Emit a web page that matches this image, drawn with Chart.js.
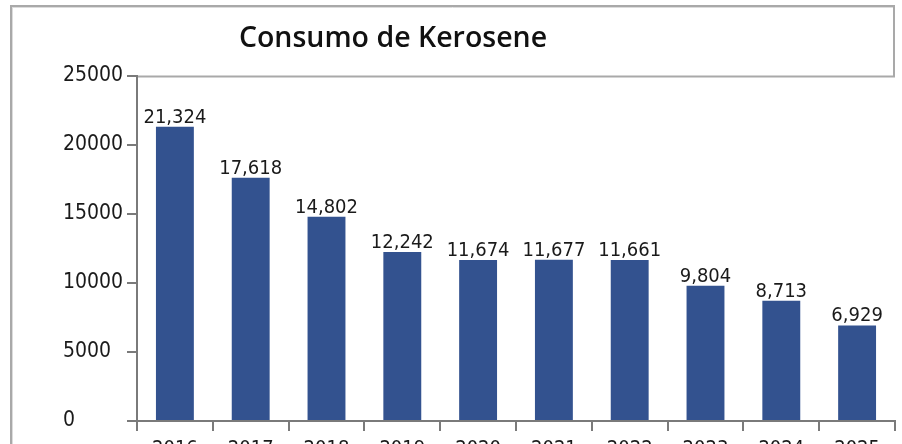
<!DOCTYPE html>
<html>
<head>
<meta charset="utf-8">
<script src="https://cdn.jsdelivr.net/npm/chart.js@4/dist/chart.umd.min.js"></script>
<style>
html,body{margin:0;padding:0;background:#fff;overflow:hidden;width:902px;height:444px;}
#wrap{position:absolute;left:0;top:0;width:902px;height:470px;}
canvas{display:block;}
</style>
</head>
<body>
<div id="wrap"><canvas id="c" width="902" height="470"></canvas></div>
<script>
const chartTitle = 'Consumo de Kerosene';
const years = ['2016','2017','2018','2019','2020','2021','2022','2023','2024','2025'];
const consumo = [21324, 17618, 14802, 12242, 11674, 11677, 11661, 9804, 8713, 6929];
const yTicks = [0, 5000, 10000, 15000, 20000, 25000];

const FONT = "'DejaVu Sans Condensed', 'DejaVu Sans', sans-serif";
const AXIS = '#7a7a7a';

const framePlugin = {
  id: 'frame',
  beforeDraw(chart) {
    const ctx = chart.ctx;
    const ca = chart.chartArea;
    ctx.save();
    ctx.lineCap = 'butt';
    ctx.strokeStyle = '#a9a9a9';
    ctx.lineWidth = 2;
    ctx.beginPath();
    ctx.moveTo(11, 5); ctx.lineTo(11, chart.height);
    ctx.moveTo(10, 6); ctx.lineTo(ca.right, 6);
    ctx.moveTo(ca.right - 1, 5); ctx.lineTo(ca.right - 1, ca.top + 1);
    ctx.moveTo(ca.left, ca.top + 0.5); ctx.lineTo(ca.right, ca.top + 0.5);
    ctx.stroke();
    ctx.strokeStyle = '#dcdcdc';
    ctx.lineWidth = 1;
    ctx.beginPath();
    ctx.moveTo(12.5, 7); ctx.lineTo(12.5, chart.height);
    ctx.moveTo(12, 7.5); ctx.lineTo(ca.right - 2, 7.5);
    ctx.stroke();
    ctx.fillStyle = '#111';
    ctx.font = "600 28.5px 'Open Sans', sans-serif";
    ctx.textAlign = 'center';
    ctx.textBaseline = 'alphabetic';
    ctx.fillText(chartTitle, 393, 47);
    ctx.restore();
  }
};

const labelPlugin = {
  id: 'barLabels',
  afterDatasetsDraw(chart) {
    const ctx = chart.ctx;
    const meta = chart.getDatasetMeta(0);
    ctx.save();
    ctx.fillStyle = '#1a1a1a';
    ctx.font = "20px " + FONT;
    ctx.textAlign = 'center';
    ctx.textBaseline = 'alphabetic';
    meta.data.forEach((bar, i) => {
      const v = chart.data.datasets[0].data[i];
      ctx.fillText(v.toLocaleString('en-US'), bar.x, bar.y - 4);
    });
    ctx.restore();
  }
};

new Chart(document.getElementById('c'), {
  type: 'bar',
  data: {
    labels: years,
    datasets: [{
      data: consumo,
      backgroundColor: '#33528f',
      borderWidth: 0,
      barPercentage: 0.5,
      categoryPercentage: 1.0
    }]
  },
  options: {
    responsive: false,
    animation: false,
    devicePixelRatio: 1,
    layout: { padding: { left: 63, right: 7, top: 76, bottom: 0 } },
    plugins: {
      legend: { display: false },
      title: { display: false },
      tooltip: { enabled: false }
    },
    scales: {
      x: {
        grid: { offset: true, drawOnChartArea: false, drawTicks: true, tickLength: 10, color: AXIS, lineWidth: 2 },
        border: { display: true, color: AXIS, width: 2 },
        ticks: { color: '#1a1a1a', font: { family: FONT, size: 20 }, padding: 6, maxRotation: 0, autoSkip: false },
        afterFit(s) { s.height = 49; }
      },
      y: {
        min: yTicks[0],
        max: yTicks[yTicks.length - 1],
        afterBuildTicks(s) { s.ticks = yTicks.map(v => ({ value: v })); },
        grid: { drawOnChartArea: false, drawTicks: true, tickLength: 10, color: AXIS, lineWidth: 2 },
        border: { display: true, color: AXIS, width: 2 },
        ticks: { color: '#1a1a1a', font: { family: FONT, size: 21 }, crossAlign: 'far', padding: 2, callback: v => String(v) },
        afterFit(s) { s.width = 74; }
      }
    }
  },
  plugins: [framePlugin, labelPlugin]
});
</script>
</body>
</html>
